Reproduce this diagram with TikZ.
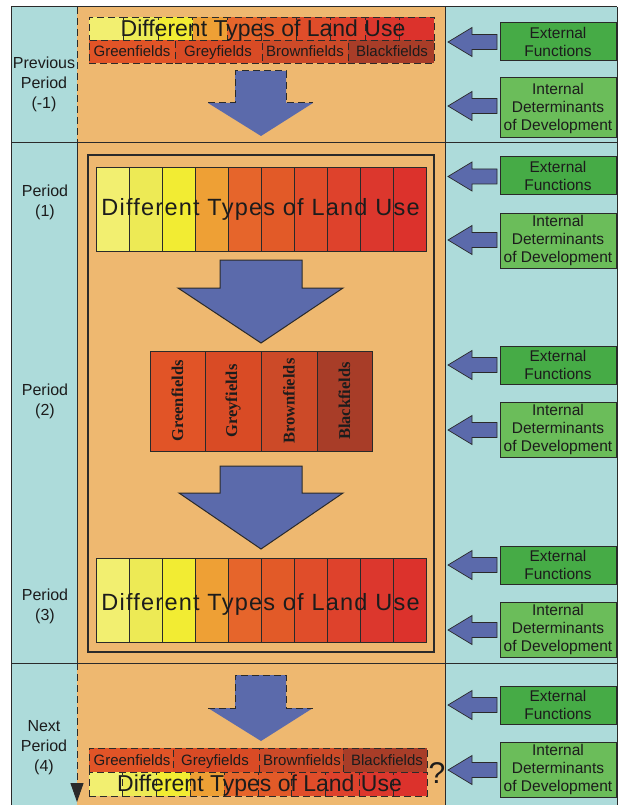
\documentclass[tikz,border=0pt]{standalone}
\usepackage{fontspec}
\setmainfont{Liberation Sans}
\newfontfamily\tnr{Liberation Serif}
\usetikzlibrary{arrows.meta}
\definecolor{paleblue}{HTML}{ADDBDA}
\definecolor{paneorange}{HTML}{EEB870}
\definecolor{blockblue}{HTML}{5B6AAB}
\definecolor{extgreen}{HTML}{46AB46}
\definecolor{intgreen}{HTML}{6BBD5A}
\definecolor{lineclr}{HTML}{2A2A2A}
\definecolor{textclr}{HTML}{1C1C1C}
\definecolor{c1}{HTML}{F2EF70}
\definecolor{c2}{HTML}{EDEA55}
\definecolor{c3}{HTML}{F2EC33}
\definecolor{c4}{HTML}{EEA035}
\definecolor{c5}{HTML}{E6652B}
\definecolor{c6}{HTML}{E25A28}
\definecolor{c7}{HTML}{E04D2A}
\definecolor{c8}{HTML}{DE422C}
\definecolor{c9}{HTML}{DC372D}
\definecolor{c10}{HTML}{DC322C}
\definecolor{f1}{HTML}{E15427}
\definecolor{f2}{HTML}{D94B25}
\definecolor{f3}{HTML}{CC4A28}
\definecolor{f4}{HTML}{A83D28}
\tikzset{
  frameline/.style={draw=lineclr, line width=1pt},
  dashline/.style={draw=lineclr, line width=1pt, dash pattern=on 7pt off 4pt},
  cellbox/.style={draw=lineclr, line width=0.9pt, inner sep=0pt, outer sep=0pt, anchor=north west},
  dashcell/.style={cellbox, dash pattern=on 7pt off 4pt},
  gbox/.style={draw=lineclr, line width=1pt, minimum width=116pt, align=center, inner sep=0pt,
    font=\fontsize{15.5}{18}\selectfont, text=textclr},
  extbox/.style={gbox, fill=extgreen, minimum height=38pt},
  intbox/.style={gbox, fill=intgreen, minimum height=55pt},
  leftlabel/.style={align=center, font=\fontsize{16}{20}\selectfont, text=textclr, inner sep=0pt},
  bigtext/.style={font=\fontsize{23.5}{24}\selectfont\addfontfeature{LetterSpace=5.3}, text=textclr, inner sep=0pt, anchor=base},
  smalldt/.style={font=\fontsize{23}{24}\selectfont, text=textclr, inner sep=0pt, anchor=base},
  gftext/.style={font=\fontsize{15}{16}\selectfont, text=textclr, inner sep=0pt, anchor=base},
  vtext/.style={font=\tnr\bfseries\fontsize{16.5}{16.5}\selectfont, text=textclr, inner sep=0pt, rotate=90},
  solidarrow/.style={fill=blockblue, draw=lineclr, line width=1pt, line join=miter},
  lefttip/.pic={\filldraw[fill=blockblue, draw=lineclr, line width=0.7pt]
     (0,0) -- (24,-14.5) -- (24,-7.5) -- (49,-7.5) -- (49,7.5) -- (24,7.5) -- (24,14.5) -- cycle;}
}
\begin{document}
\begin{tikzpicture}[x=1pt,y=-1pt]
\useasboundingbox (0,0) rectangle (620,805);
% backgrounds
\fill[paleblue] (11,7) rectangle (77,805);
\fill[paneorange] (77,7) rectangle (445,805);
\fill[paleblue] (445,7) rectangle (617,805);
% frame lines
\draw[frameline] (11,7) -- (617,7);
\draw[frameline] (11,143) -- (617,143);
\draw[frameline] (11,663) -- (617,663);
\draw[frameline] (11,7) -- (11,805);
\draw[frameline] (445,7) -- (445,805);
\draw[frameline] (617,7) -- (617,805);
\coordinate (vA) at (77,7);
\coordinate (vB) at (77,143);
\coordinate (vC) at (77,663);
\coordinate (vD) at (77,802);
\draw[dashline] (vA) -- (vB);
\draw[frameline] (vB) -- (vC);
\draw[dashline, -{Triangle[length=19pt,width=13pt]}] (vC) -- (vD);

% left labels
\node[leftlabel] (lp0) at (44,84) {Previous\\Period\\(-1)};
\node[leftlabel] (lp1) at (45,202) {Period\\(1)};
\node[leftlabel] (lp2) at (45,401) {Period\\(2)};
\node[leftlabel] (lp3) at (45,606) {Period\\(3)};
\node[leftlabel] (lp4) at (44,748) {Next\\Period\\(4)};

% ===== previous period =====
\foreach \i/\c in {0/c1,1/c2,2/c3,3/c4,4/c5,5/c6,6/c7,7/c8,8/c9,9/c10}
  \node[dashcell, fill=\c, minimum width=34.5pt, minimum height=23pt] (ta\i) at ({89+34.5*\i},17) {};
\node[dashcell, fill=f1, minimum width=86pt, minimum height=23pt] (tg1) at (89,40) {};
\node[dashcell, fill=f2, minimum width=87pt, minimum height=23pt] (tg2) at (175,40) {};
\node[dashcell, fill=f3, minimum width=86pt, minimum height=23pt] (tg3) at (262,40) {};
\node[dashcell, fill=f4, minimum width=86pt, minimum height=23pt] (tg4) at (348,40) {};
\node[smalldt] (ttext) at (263,37) {Different Types of Land Use};
\node[gftext] (tgt1) at (132,57) {Greenfields};
\node[gftext] (tgt2) at (218,57) {Greyfields};
\node[gftext] (tgt3) at (305,57) {Brownfields};
\node[gftext] (tgt4) at (392,57) {Blackfields};
\fill[blockblue] (235,71) -- (286,71) -- (286,103) -- (313,103) -- (261,136) -- (208,103) -- (235,103) -- cycle;
\draw[dashline] (208,103) -- (235,103) -- (235,71) -- (286,71) -- (286,103) -- (313,103);

% ===== periods 1-3 =====
\draw[draw=lineclr, line width=1.4pt] (88,155) rectangle (434,652);
\foreach \i/\c in {0/c1,1/c2,2/c3,3/c4,4/c5,5/c6,6/c7,7/c8,8/c9,9/c10}
  \node[cellbox, fill=\c, minimum width=33pt, minimum height=84pt] (ba\i) at ({96+33*\i},167) {};
\node[bigtext] (btext) at (260.5,215) {Different Types of Land Use};
\filldraw[solidarrow] (220,260) -- (302,260) -- (302,288) -- (343,288) -- (261,343) -- (178,288) -- (220,288) -- cycle;
\node[cellbox, fill=f1, minimum width=55pt, minimum height=100pt] (mg1) at (150,351) {};
\node[cellbox, fill=f2, minimum width=56pt, minimum height=100pt] (mg2) at (205,351) {};
\node[cellbox, fill=f3, minimum width=56pt, minimum height=100pt] (mg3) at (261,351) {};
\node[cellbox, fill=f4, minimum width=55pt, minimum height=100pt] (mg4) at (317,351) {};
\node[vtext] (mt1) at (177.5,401) {Greenfields};
\node[vtext] (mt2) at (233,401) {Greyfields};
\node[vtext] (mt3) at (289,401) {Brownfields};
\node[vtext] (mt4) at (344.5,401) {Blackfields};
\filldraw[solidarrow] (220,466) -- (302,466) -- (302,493) -- (343,493) -- (261,549) -- (179,493) -- (220,493) -- cycle;
\foreach \i/\c in {0/c1,1/c2,2/c3,3/c4,4/c5,5/c6,6/c7,7/c8,8/c9,9/c10}
  \node[cellbox, fill=\c, minimum width=33pt, minimum height=84pt] (bc\i) at ({96+33*\i},558) {};
\node[bigtext] (ctext) at (260.5,610) {Different Types of Land Use};

% ===== next period =====
\fill[blockblue] (235,675) -- (286,675) -- (286,708) -- (313,708) -- (261,741) -- (208,708) -- (235,708) -- cycle;
\draw[dashline] (208,708) -- (235,708) -- (235,675) -- (286,675) -- (286,708) -- (313,708);
\node[dashcell, fill=f1, minimum width=84pt, minimum height=24pt] (ng1) at (89,748) {};
\node[dashcell, fill=f2, minimum width=86pt, minimum height=24pt] (ng2) at (173,748) {};
\node[dashcell, fill=f3, minimum width=84pt, minimum height=24pt] (ng3) at (259,748) {};
\node[dashcell, fill=f4, minimum width=84pt, minimum height=24pt] (ng4) at (343,748) {};
\foreach \i/\c in {0/c1,1/c2,2/c3,3/c4,4/c5,5/c6,6/c7,7/c8,8/c9,9/c10}
  \node[dashcell, fill=\c, minimum width=33.8pt, minimum height=24pt] (na\i) at ({89+33.8*\i},772) {};
\node[gftext] (ngt1) at (132,765) {Greenfields};
\node[gftext] (ngt2) at (215,765) {Greyfields};
\node[gftext] (ngt3) at (302,765) {Brownfields};
\node[gftext] (ngt4) at (387,765) {Blackfields};
\node[smalldt] (ntext) at (259.5,791) {Different Types of Land Use};
\node[font=\fontsize{30}{30}\selectfont, text=textclr, inner sep=0pt] (qm) at (437,773) {?};

% ===== right column =====
\node[extbox] (e0) at (558,41.5) {External\\Functions};
\node[intbox, minimum height=60pt] (i0) at (558,108) {Internal\\Determinants\\of Development};
\node[extbox] (e1) at (558,175.5) {External\\Functions};
\node[intbox] (i1) at (558,240.5) {Internal\\Determinants\\of Development};
\node[extbox] (e2) at (558,365) {External\\Functions};
\node[intbox] (i2) at (558,429.5) {Internal\\Determinants\\of Development};
\node[extbox] (e3) at (558,565) {External\\Functions};
\node[intbox] (i3) at (558,629.5) {Internal\\Determinants\\of Development};
\node[extbox] (e4) at (558,705) {External\\Functions};
\node[intbox] (i4) at (558,769.5) {Internal\\Determinants\\of Development};
\foreach \y in {42,106,176.5,240,365,430,565,630,705,770}
  \pic at (448,\y) {lefttip};
\end{tikzpicture}
\end{document}
